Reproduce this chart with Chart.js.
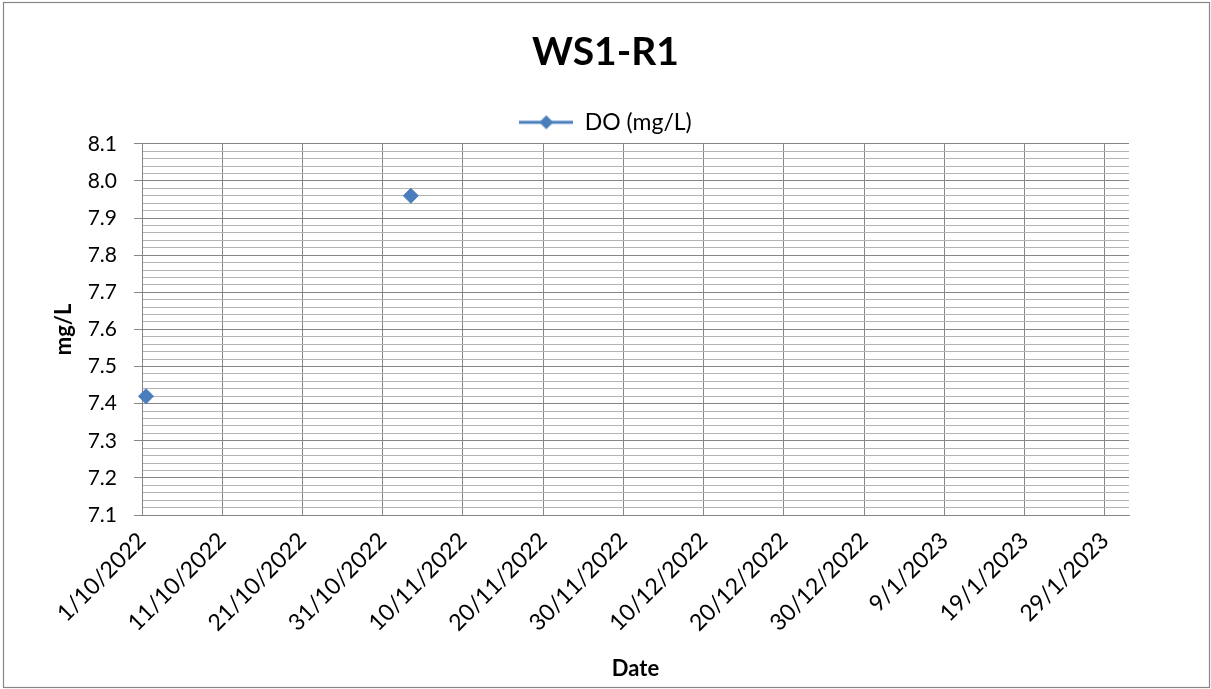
<!DOCTYPE html>
<html>
<head>
<meta charset="utf-8">
<script src="https://cdn.jsdelivr.net/npm/chart.js@4.4.1/dist/chart.umd.min.js"></script>
<style>
  html, body { margin: 0; padding: 0; background: #ffffff; }
  #wrap { width: 1211px; height: 689px; position: relative; }
</style>
</head>
<body>
<div id="wrap"><canvas id="c" width="1211" height="689"></canvas></div>
<script>
// ---- data ----
const chartTitle = "WS1-R1";
const seriesName = "DO (mg/L)";
const sampleDates = ["2022-10-01T12:00:00Z", "2022-11-03T12:00:00Z"];
const doValues = [7.42, 7.96];
const xTickLabels = ["1/10/2022", "11/10/2022", "21/10/2022", "31/10/2022", "10/11/2022", "20/11/2022",
                     "30/11/2022", "10/12/2022", "20/12/2022", "30/12/2022", "9/1/2023", "19/1/2023", "29/1/2023"];
const axisStartDate = "2022-10-01T00:00:00Z";
const axisEndDate = "2023-02-01T00:00:00Z";
const xStepDays = 10;
const yMin = 7.1, yMax = 8.1, yMajor = 0.1, yMinor = 0.02;

// ---- helpers ----
const DAY = 86400000;
const t0 = Date.parse(axisStartDate);
const dayOf = s => (Date.parse(s) - t0) / DAY;
const points = sampleDates.map((d, i) => ({ x: dayOf(d), y: doValues[i] }));

const BLUE = '#4a7ebb';
const MAJOR = '#868686';
const MINOR = '#b4b4b4';
const FONT = 'Lato, "Open Sans", sans-serif';

// legend symbol: line with diamond
const sym = document.createElement('canvas');
sym.width = 54; sym.height = 18;
(function () {
  const g = sym.getContext('2d');
  g.strokeStyle = BLUE; g.lineWidth = 3;
  g.beginPath(); g.moveTo(0, 9); g.lineTo(54, 9); g.stroke();
  g.fillStyle = BLUE;
  g.beginPath(); g.moveTo(27, 2); g.lineTo(34, 9); g.lineTo(27, 16); g.lineTo(20, 9); g.closePath(); g.fill();
})();

const isMajor = v => Math.abs(v / yMajor - Math.round(v / yMajor)) < 1e-6;

const bgPlugin = {
  id: 'bg',
  beforeDraw(chart) {
    const ctx = chart.ctx;
    ctx.save(); ctx.fillStyle = '#ffffff'; ctx.fillRect(0, 0, chart.width, chart.height); ctx.restore();
  },
  afterDraw(chart) {
    const ctx = chart.ctx;
    ctx.save(); ctx.strokeStyle = MAJOR; ctx.lineWidth = 1.2;
    ctx.strokeRect(3.5, 2.5, 1206, 685); ctx.restore();
  }
};

new Chart(document.getElementById('c'), {
  type: 'scatter',
  data: {
    datasets: [{
      label: seriesName,
      data: points,
      showLine: false,
      pointStyle: 'rectRot',
      pointRadius: 7.5,
      pointHoverRadius: 7.5,
      backgroundColor: BLUE,
      borderColor: BLUE,
      borderWidth: 1,
      clip: false
    }]
  },
  options: {
    responsive: false,
    animation: false,
    events: [],
    layout: { padding: { left: 0, right: 0, top: 0, bottom: 0 } },
    plugins: {
      title: {
        display: true, text: chartTitle, color: '#000',
        font: { family: FONT, size: 39, weight: 'bold', lineHeight: 1.2 },
        padding: { top: 29, bottom: 25 }
      },
      legend: {
        display: true, position: 'top',
        labels: {
          color: '#000', font: { family: FONT, size: 23 }, padding: 10,
          usePointStyle: true, pointStyleWidth: 54,
          generateLabels: chart => [{
            text: seriesName, pointStyle: sym, fillStyle: BLUE, strokeStyle: BLUE,
            lineWidth: 0, hidden: false, datasetIndex: 0, fontColor: '#000'
          }]
        }
      },
      tooltip: { enabled: false }
    },
    scales: {
      x: {
        type: 'linear', position: 'bottom',
        min: 0, max: dayOf(axisEndDate),
        afterBuildTicks: s => { s.ticks = s.ticks.filter(t => Math.abs(t.value / xStepDays - Math.round(t.value / xStepDays)) < 1e-6 && t.value <= 120.0001); },
        afterFit: s => { s.height = 174; },
        border: { color: MAJOR, width: 1 },
        grid: { color: MAJOR, lineWidth: 1, drawTicks: false },
        ticks: {
          stepSize: xStepDays, autoSkip: false, includeBounds: false,
          maxRotation: 45, minRotation: 45, padding: 12,
          color: '#000', font: { family: FONT, size: 23 },
          callback: (v, i) => xTickLabels[Math.round(v / xStepDays)]
        },
        title: {
          display: true, text: 'Date', color: '#000',
          font: { family: FONT, size: 22, weight: 'bold', lineHeight: 1.2 },
          padding: { top: 0, bottom: 7 }
        }
      },
      y: {
        type: 'linear', position: 'left',
        min: yMin, max: yMax,
        afterFit: s => { s.width = 142; },
        afterBuildTicks: s => { s.ticks = s.ticks.filter(t => t.value >= yMin - 1e-9 && t.value <= yMax + 1e-9); },
        border: { color: MAJOR, width: 1 },
        grid: {
          color: c => (c.tick && isMajor(c.tick.value)) ? MAJOR : MINOR,
          lineWidth: 1, drawTicks: true, tickLength: 8,
          tickColor: c => (c.tick && isMajor(c.tick.value)) ? MAJOR : 'rgba(0,0,0,0)'
        },
        ticks: {
          stepSize: yMinor, autoSkip: false, padding: 17,
          color: '#000', font: { family: FONT, size: 21 },
          callback: v => isMajor(v) ? (Math.round(v * 10) / 10).toFixed(1) : ''
        },
        title: {
          display: true, text: 'mg/L', color: '#000',
          font: { family: FONT, size: 22, weight: 'bold', lineHeight: 1.2 },
          padding: { top: 51, bottom: 0 }
        }
      },
      yRight: {
        type: 'linear', position: 'right', display: true,
        afterFit: s => { s.width = 82; },
        border: { display: false },
        grid: { display: false, drawTicks: false },
        ticks: { display: false }
      }
    }
  },
  plugins: [bgPlugin]
});
</script>
</body>
</html>
